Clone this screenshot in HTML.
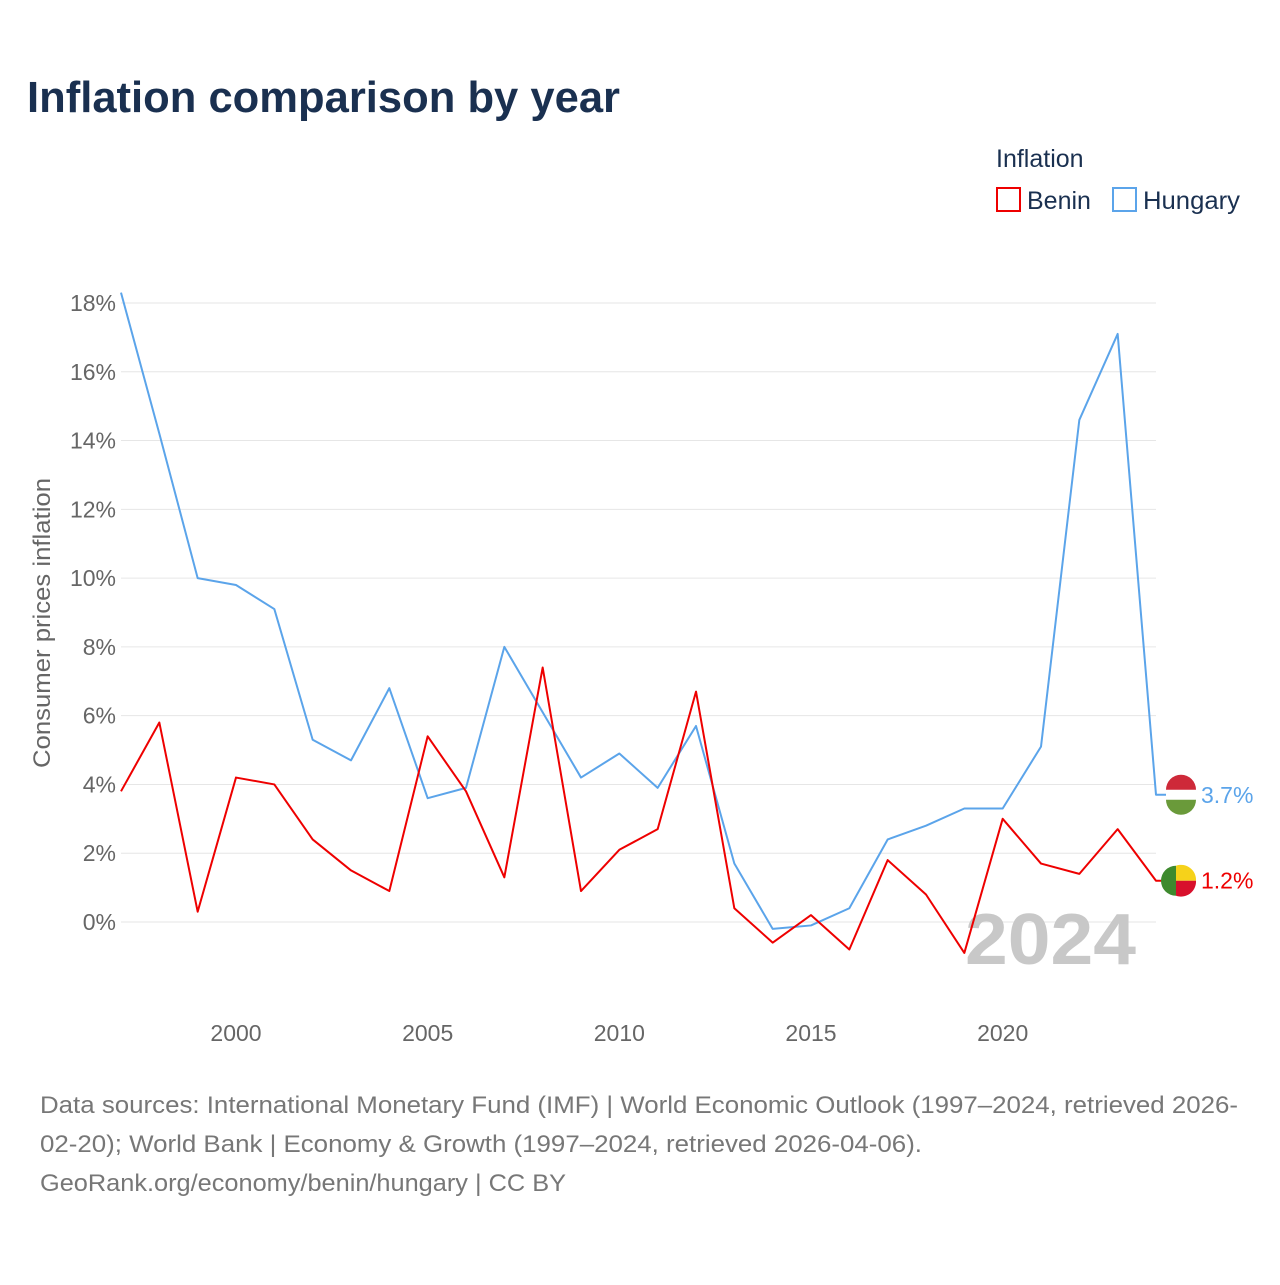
<!DOCTYPE html>
<html><head><meta charset="utf-8"><style>
body{margin:0;width:1280px;height:1280px;background:#fff;font-family:"Liberation Sans",sans-serif;overflow:hidden}
</style></head><body>
<svg width="1280" height="1280" xmlns="http://www.w3.org/2000/svg">
<text x="27" y="112" font-size="44" font-weight="bold" fill="#1a3050" textLength="593" lengthAdjust="spacingAndGlyphs">Inflation comparison by year</text>
<text x="996" y="167" font-size="25" fill="#1a3050">Inflation</text>
<g><rect x="997" y="188" width="23" height="23" fill="none" stroke="#e00" stroke-width="2"/><text x="1027" y="209" font-size="25" fill="#1a3050">Benin</text></g>
<g><rect x="1113" y="188" width="23" height="23" fill="none" stroke="#5ba4ea" stroke-width="2"/><text x="1143" y="209" font-size="25" fill="#1a3050" textLength="97" lengthAdjust="spacingAndGlyphs">Hungary</text></g>
<g id="grid"></g>
<g id="yt"></g>
<g id="xt"></g>
<text transform="translate(50,623) rotate(-90)" text-anchor="middle" font-size="24" fill="#666" textLength="290" lengthAdjust="spacingAndGlyphs">Consumer prices inflation</text>
<text x="965" y="964" font-size="72" font-weight="bold" fill="#c8c8c8" textLength="171" lengthAdjust="spacingAndGlyphs">2024</text>
<g id="series"></g>
<g font-size="24" fill="#777">
<text x="40" y="1113" textLength="1198" lengthAdjust="spacingAndGlyphs">Data sources: International Monetary Fund (IMF) | World Economic Outlook (1997–2024, retrieved 2026-</text>
<text x="40" y="1152" textLength="882" lengthAdjust="spacingAndGlyphs">02-20); World Bank | Economy &amp; Growth (1997–2024, retrieved 2026-04-06).</text>
<text x="40" y="1191" textLength="526" lengthAdjust="spacingAndGlyphs">GeoRank.org/economy/benin/hungary | CC BY</text>
</g>
</svg>
<script>
const years=[1997,1998,1999,2000,2001,2002,2003,2004,2005,2006,2007,2008,2009,2010,2011,2012,2013,2014,2015,2016,2017,2018,2019,2020,2021,2022,2023,2024];
const hungary=[18.3,14.2,10.0,9.8,9.1,5.3,4.7,6.8,3.6,3.9,8.0,6.1,4.2,4.9,3.9,5.7,1.7,-0.2,-0.1,0.4,2.4,2.8,3.3,3.3,5.1,14.6,17.1,3.7];
const benin=[3.8,5.8,0.3,4.2,4.0,2.4,1.5,0.9,5.4,3.8,1.3,7.4,0.9,2.1,2.7,6.7,0.4,-0.6,0.2,-0.8,1.8,0.8,-0.9,3.0,1.7,1.4,2.7,1.2];
const yTicks=[0,2,4,6,8,10,12,14,16,18];
const xTicks=[2000,2005,2010,2015,2020];
const NS="http://www.w3.org/2000/svg";
const xs=y=>121+(y-1997)*(1156-121)/27;
const ys=v=>922-v*34.39;
function mk(t,a,p){const e=document.createElementNS(NS,t);for(const k in a)e.setAttribute(k,a[k]);p.appendChild(e);return e;}
const grid=document.getElementById('grid'),yt=document.getElementById('yt'),xt=document.getElementById('xt'),ser=document.getElementById('series');
yTicks.forEach(v=>{
 const l=mk('line',{x1:121,x2:1156,y1:ys(v),y2:ys(v),stroke:'#e6e6e6','stroke-width':1},grid);
 
 
 const t=mk('text',{x:116,y:ys(v)+8,'text-anchor':'end','font-size':23,fill:'#666'},yt);
 t.textContent=v+'%';
 
 
});
xTicks.forEach(v=>{
 const t=mk('text',{x:xs(v),y:1041,'text-anchor':'middle','font-size':23,fill:'#666'},xt);
 t.textContent=v;
 
 
});
function line(vals,color,name){
 const pts=vals.map((v,i)=>xs(years[i])+','+ys(v));
 const last=vals[vals.length-1];
 pts.push((xs(years[years.length-1])+10)+','+ys(last));
 const p=mk('polyline',{points:pts.join(' '),fill:'none',stroke:color,'stroke-width':2,'stroke-linejoin':'round'},ser);
 
 
 const t=mk('text',{x:1201,y:ys(last)+8,'font-size':23,fill:color},ser);
 t.textContent=last.toFixed(1)+'%';
 
 
 return ys(last);
}
const hy=line(hungary,'#5ba4ea','hungary');
const by=line(benin,'#e00','benin');
const fh=mk('g',{},ser);


mk('circle',{cx:1181,cy:hy,r:15,fill:'#fff'},fh);
mk('path',{d:`M1166,${hy-5} A15,15 0 0 1 1196,${hy-5} Z`,fill:'#ce2939'},fh);
mk('path',{d:`M1166,${hy+5} A15,15 0 0 0 1196,${hy+5} Z`,fill:'#6a9a3a'},fh);
const fb=mk('g',{},ser);


mk('path',{d:`M1176,${by-15} A15,15 0 0 0 1176,${by+15} Z`,fill:'#3e8a2e'},fb);
mk('path',{d:`M1176,${by-15} L1176,${by} L1196,${by} A15,15 0 0 0 1176,${by-15} Z`,fill:'#f6d21a'},fb);
mk('path',{d:`M1176,${by} L1176,${by+15} A15,15 0 0 0 1196,${by} Z`,fill:'#d8102c'},fb);
</script>
</body></html>
